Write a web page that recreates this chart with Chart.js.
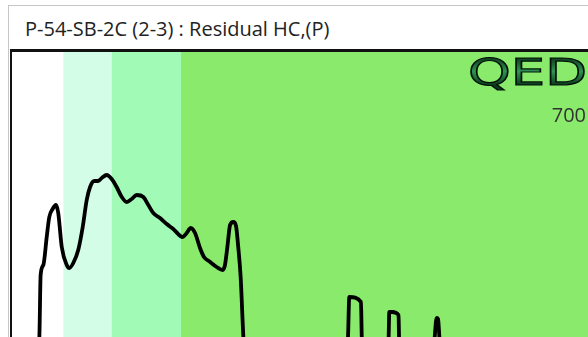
<!DOCTYPE html>
<html><head><meta charset="utf-8">
<script src="https://cdn.jsdelivr.net/npm/chart.js@4.4.0/dist/chart.umd.min.js"></script>
<style>
html,body{margin:0;padding:0;width:588px;height:337px;overflow:hidden;background:#fff;}
#panel{position:absolute;left:8px;top:5px;width:620px;height:400px;border-top:1px solid #c6c6c6;border-left:1px solid #c6c6c6;background:#fff;}
#title{position:absolute;left:25px;top:15px;font-family:"Open Sans";font-size:20px;color:#222;white-space:nowrap;transform-origin:0 0;}
#frame{position:absolute;left:10px;top:49px;border-top:3px solid #111;border-left:2px solid #111;}
canvas{display:block}
</style></head><body>
<div id="panel"></div>
<div id="title"><span id="tt">P-54-SB-2C (2-3) : Residual HC,(P)</span></div>
<div id="frame"><canvas id="c" width="576" height="285"></canvas></div>
<script>
// retention time (min) and detector response
const times = [0, 1.63, 1.71, 1.79, 1.96, 2.17, 2.33, 2.54, 2.75, 2.89,
  3.11, 3.42, 3.58, 3.83, 4.14, 4.42, 4.67, 4.88, 5.14, 5.39,
  5.61, 5.92, 6.23, 6.54, 6.86, 7.17, 7.48, 7.79, 8.21, 8.52,
  8.83, 9.25, 9.67, 10.08, 10.67, 10.92, 11.17, 11.44, 11.75, 12.0,
  12.38, 12.79, 13.17, 13.31, 13.46, 13.63, 13.83, 14.0, 14.14, 14.29,
  14.46, 14.5, 20.94, 21.0, 21.08, 21.81, 21.86, 21.91, 23.5, 23.54,
  23.58, 23.75, 24.16, 24.19, 24.22, 26.38, 26.42, 26.54, 26.63, 26.71,
  26.75, 36];
const response = [-20, -20, 0, 124, 144, 200, 240, 256, 264, 248,
  180, 144, 138, 148, 174, 220, 274, 300, 312, 312,
  318, 324, 316, 300, 280, 270, 276, 284, 280, 264,
  248, 238, 226, 216, 200, 208, 218, 208, 178, 160,
  150, 140, 134, 144, 180, 224, 230, 222, 180, 120,
  0, -20, -20, 0, 80, 70, 0, -20, -20, 0,
  50, 50, 44, 0, -20, -20, 0, 38, 36, 0,
  -20, -20];
// carbon-range bands (start, end in minutes)
const bandStarts = [0, 3.21, 6.23, 10.56];
const bandEnds = [3.21, 6.23, 10.56, 36];
const bandColors = ['#ffffff', '#d3fde6', '#a1fbb7', '#8aea6c'];
const logoText = 'QED';
const scaleLabel = '700';
const xMax = 36, yMax = 570;

const bandsPlugin = {
  id: 'bands',
  beforeDatasetsDraw(chart) {
    const {ctx, chartArea: a, scales: {x}} = chart;
    ctx.save();
    bandStarts.forEach((s, i) => {
      const x0 = x.getPixelForValue(s), x1 = x.getPixelForValue(bandEnds[i]);
      ctx.fillStyle = bandColors[i];
      ctx.fillRect(x0, a.top, x1 - x0, a.bottom - a.top);
    });
    ctx.restore();
  }
};
const logoPlugin = {
  id: 'logo',
  afterDraw(chart) {
    const ctx = chart.ctx;
    ctx.save();
    ctx.font = '37px "DejaVu Sans"';
    const w = ctx.measureText(logoText).width;
    ctx.translate(456, 33);
    ctx.scale(119 / w, 1);
    const g = ctx.createLinearGradient(0, -27, 0, 0);
    g.addColorStop(0, '#0d3d1e');
    g.addColorStop(0.5, '#2f9455');
    g.addColorStop(1, '#0b3a1c');
    ctx.fillStyle = g;
    ctx.fillText(logoText, 0, 0);
    ctx.lineWidth = 1.2;
    ctx.strokeStyle = '#021008';
    ctx.strokeText(logoText, 0, 0);
    ctx.restore();
    ctx.save();
    ctx.font = '20px "Open Sans"';
    ctx.textAlign = 'right';
    ctx.fillStyle = '#333';
    ctx.fillText(scaleLabel, 574, 70);
    ctx.restore();
  }
};

new Chart(document.getElementById('c'), {
  type: 'line',
  data: { datasets: [{
    data: times.map((t, i) => ({x: t, y: response[i]})),
    borderColor: '#000', borderWidth: 3.8, pointRadius: 0,
    cubicInterpolationMode: 'monotone', borderJoinStyle: 'round', borderCapStyle: 'round', fill: false
  }]},
  options: {
    responsive: false, animation: false,
    layout: {padding: 0},
    plugins: {legend: {display: false}, tooltip: {enabled: false}, title: {display: false}},
    scales: {
      x: {type: 'linear', min: 0, max: xMax, display: false},
      y: {min: 0, max: yMax, display: false}
    }
  },
  plugins: [bandsPlugin, logoPlugin]
});

const tt = document.getElementById('tt');
const fit = () => { const w = tt.getBoundingClientRect().width; if (w > 0) document.getElementById('title').style.transform = 'scaleX(' + (367 / w) + ')'; };
fit();
if (document.fonts) document.fonts.ready.then(fit);
</script>
</body></html>
